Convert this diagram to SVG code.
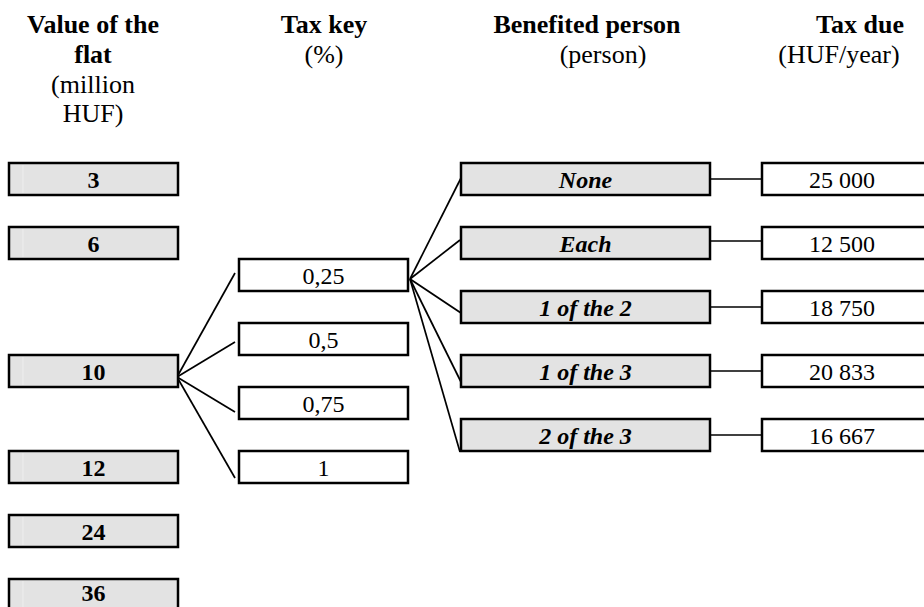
<svg xmlns="http://www.w3.org/2000/svg" width="924" height="607" viewBox="0 0 924 607">
  <style>
    .hd { font-family: "Liberation Serif", "Times New Roman", serif; font-size: 26px; text-anchor: middle; fill: #000; }
    .b { font-weight: bold; }
    .i { font-style: italic; }
    .lbl { font-family: "Liberation Serif", "Times New Roman", serif; font-size: 24px; text-anchor: middle; fill: #000; }
    .gray { fill: #e3e3e3; stroke: #000; stroke-width: 2.5; }
    .white { fill: #fff; stroke: #000; stroke-width: 2.5; }
    .strip { stroke: #eeeeee; stroke-width: 1; }
    .con line { stroke: #000; stroke-width: 1.7; fill: none; }
  </style>

  <!-- column headings -->
  <g id="headings">
    <text class="hd b" x="93" y="33">Value of the</text>
    <text class="hd b" x="93" y="63">flat</text>
    <text class="hd" x="93" y="93">(million</text>
    <text class="hd" x="93" y="122">HUF)</text>
    <text class="hd b" x="324" y="33">Tax key</text>
    <text class="hd" x="324" y="63">(%)</text>
    <text class="hd b" x="587" y="33">Benefited person</text>
    <text class="hd" x="603" y="63">(person)</text>
    <text class="hd b" x="860" y="33">Tax due</text>
    <text class="hd" x="839" y="63">(HUF/year)</text>
  </g>

  <!-- connectors -->
  <g id="connectors" class="con">
    <line x1="177" y1="377" x2="235" y2="273"/>
    <line x1="177" y1="377" x2="235" y2="342"/>
    <line x1="177" y1="377" x2="235" y2="412"/>
    <line x1="177" y1="377" x2="235" y2="478"/>
    <line x1="410" y1="279" x2="461" y2="178"/>
    <line x1="410" y1="279" x2="460" y2="240"/>
    <line x1="410" y1="279" x2="461" y2="313"/>
    <line x1="410" y1="279" x2="461" y2="382"/>
    <line x1="410" y1="279" x2="460" y2="452"/>
    <line x1="710" y1="179" x2="762" y2="179"/>
    <line x1="710" y1="241" x2="762" y2="241"/>
    <line x1="710" y1="307" x2="762" y2="307"/>
    <line x1="710" y1="371" x2="762" y2="371"/>
    <line x1="710" y1="435" x2="762" y2="435"/>
  </g>

  <!-- value of the flat -->
  <g id="v3"><rect class="gray" x="9" y="163" width="169" height="32"/><line class="strip" x1="23" y1="165" x2="23" y2="193"/><text class="lbl b" x="93.5" y="188">3</text></g>
  <g id="v6"><rect class="gray" x="9" y="227" width="169" height="32"/><line class="strip" x1="23" y1="229" x2="23" y2="257"/><text class="lbl b" x="93.5" y="252">6</text></g>
  <g id="v10"><rect class="gray" x="9" y="355" width="169" height="32"/><line class="strip" x1="23" y1="357" x2="23" y2="385"/><text class="lbl b" x="93.5" y="380">10</text></g>
  <g id="v12"><rect class="gray" x="9" y="451" width="169" height="32"/><line class="strip" x1="23" y1="453" x2="23" y2="481"/><text class="lbl b" x="93.5" y="476">12</text></g>
  <g id="v24"><rect class="gray" x="9" y="515" width="169" height="32"/><line class="strip" x1="23" y1="517" x2="23" y2="545"/><text class="lbl b" x="93.5" y="540">24</text></g>
  <g id="v36"><rect class="gray" x="9" y="579" width="169" height="32"/><line class="strip" x1="23" y1="581" x2="23" y2="609"/><text class="lbl b" x="93.5" y="601">36</text></g>

  <!-- tax key -->
  <g id="k025"><rect class="white" x="239" y="259" width="169" height="32"/><text class="lbl" x="323.5" y="284">0,25</text></g>
  <g id="k05"><rect class="white" x="239" y="323" width="169" height="32"/><text class="lbl" x="323.5" y="348">0,5</text></g>
  <g id="k075"><rect class="white" x="239" y="387" width="169" height="32"/><text class="lbl" x="323.5" y="412">0,75</text></g>
  <g id="k1"><rect class="white" x="239" y="451" width="169" height="32"/><text class="lbl" x="323.5" y="476">1</text></g>

  <!-- benefited person -->
  <g id="pNone"><rect class="gray" x="461" y="163" width="249" height="32"/><text class="lbl b i" x="585.5" y="188">None</text></g>
  <g id="pEach"><rect class="gray" x="461" y="227" width="249" height="32"/><text class="lbl b i" x="585.5" y="252">Each</text></g>
  <g id="p1of2"><rect class="gray" x="461" y="291" width="249" height="32"/><text class="lbl b i" x="585.5" y="316">1 of the 2</text></g>
  <g id="p1of3"><rect class="gray" x="461" y="355" width="249" height="32"/><text class="lbl b i" x="585.5" y="380">1 of the 3</text></g>
  <g id="p2of3"><rect class="gray" x="461" y="419" width="249" height="32"/><text class="lbl b i" x="585.5" y="444">2 of the 3</text></g>

  <!-- tax due -->
  <g id="d1"><rect class="white" x="762" y="163" width="170" height="32"/><text class="lbl" x="842" y="188">25 000</text></g>
  <g id="d2"><rect class="white" x="762" y="227" width="170" height="32"/><text class="lbl" x="842" y="252">12 500</text></g>
  <g id="d3"><rect class="white" x="762" y="291" width="170" height="32"/><text class="lbl" x="842" y="316">18 750</text></g>
  <g id="d4"><rect class="white" x="762" y="355" width="170" height="32"/><text class="lbl" x="842" y="380">20 833</text></g>
  <g id="d5"><rect class="white" x="762" y="419" width="170" height="32"/><text class="lbl" x="842" y="444">16 667</text></g>
</svg>
